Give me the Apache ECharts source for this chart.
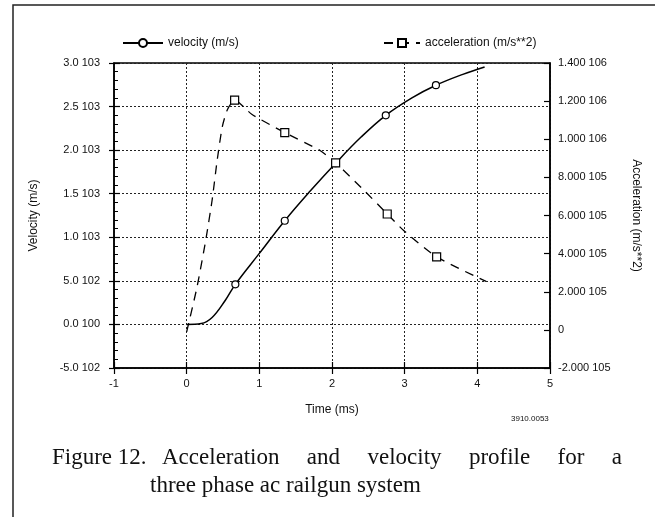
<!DOCTYPE html>
<html>
<head>
<meta charset="utf-8">
<script src="https://cdn.jsdelivr.net/npm/echarts@6/dist/echarts.min.js"></script>
<style>
  html, body { margin: 0; padding: 0; background: #fff; }
  #chart { width: 655px; height: 517px; }
</style>
</head>
<body>
<div id="chart"></div>
<script>
// velocity curve (m/s) vs time (ms)
var velTime  = [0, 0.2, 0.35, 0.53, 0.67, 1.0, 1.35, 1.7, 2.05, 2.4, 2.74, 3.1, 3.43, 3.8, 4.1]
var velValue = [0, 10, 80, 275, 460, 815, 1190, 1530, 1850, 2150, 2400, 2600, 2745, 2870, 2955]
var velMarked = [4, 6, 8, 10, 12]

// acceleration curve (m/s**2) vs time (ms)
var accTime  = [0, 0.14, 0.26, 0.35, 0.42, 0.49, 0.56, 0.66, 0.9, 1.35, 1.84, 2.05, 2.42, 2.76, 2.99, 3.44, 4.12]
var accValue = [-10000, 220000, 465000, 680000, 890000, 1065000, 1155000, 1205000, 1130000, 1035000, 940000, 876000, 740000, 608000, 520000, 383000, 254000]
var accMarked = [7, 9, 11, 13, 15]

var velTickValues = [-500, 0, 500, 1000, 1500, 2000, 2500, 3000]
var velTickLabels = ['-5.0 102', '0.0 100', '5.0 102', '1.0 103', '1.5 103', '2.0 103', '2.5 103', '3.0 103']
var accTickValues = [-200000, 0, 200000, 400000, 600000, 800000, 1000000, 1200000, 1400000]
var accTickLabels = ['-2.000 105', '0', '2.000 105', '4.000 105', '6.000 105', '8.000 105', '1.000 106', '1.200 106', '1.400 106']

var captionLead = 'Figure 12.'
var captionLine1 = ['Acceleration', 'and', 'velocity', 'profile', 'for', 'a']
var captionLine2 = 'three phase ac railgun system'

var sans = 'Liberation Sans, Arial, sans-serif'
var serif = 'Liberation Serif, Times New Roman, serif'
var captionFont = '23px ' + serif

function pickLabel(values, labels) {
  return function (v) {
    for (var i = 0; i < values.length; i++) {
      if (Math.abs(values[i] - v) < 1e-6) return labels[i]
    }
    return ''
  }
}

function buildData(xs, ys, marked) {
  return xs.map(function (x, i) {
    var item = { value: [x, ys[i]] }
    if (marked.indexOf(i) < 0) {
      item.symbol = 'none'
      item.symbolSize = 0
    }
    return item
  })
}

// spread the caption words so the first line is justified
function justify(words, x0, x1) {
  var ctx = document.createElement('canvas').getContext('2d')
  ctx.font = captionFont
  var widths = words.map(function (w) { return ctx.measureText(w).width })
  var total = widths.reduce(function (a, b) { return a + b }, 0)
  var gap = (x1 - x0 - total) / (words.length - 1)
  var x = x0
  return words.map(function (w, i) {
    var el = { type: 'text', left: x, top: 446, style: { text: w, font: captionFont, fill: '#111' } }
    x += widths[i] + gap
    return el
  })
}

var chart = echarts.init(document.getElementById('chart'))

var tickStyle = { color: '#000', width: 1.2 }
var dotted = { color: '#222', type: [2, 2], width: 1 }

chart.setOption({
  animation: false,
  backgroundColor: '#fff',
  grid: {
    left: 114, right: 105, top: 63, bottom: 149,
    show: true, borderColor: '#000', borderWidth: 1.5
  },
  legend: [{
    left: 117, top: 32,
    itemWidth: 40, itemHeight: 10,
    textStyle: { fontFamily: sans, fontSize: 12, color: '#111' },
    data: ['velocity (m/s)']
  }, {
    left: 378, top: 32,
    itemWidth: 36, itemHeight: 10,
    textStyle: { fontFamily: sans, fontSize: 12, color: '#111' },
    data: ['acceleration (m/s**2)']
  }],
  xAxis: [{
    type: 'value', min: -1, max: 5, interval: 1,
    name: 'Time (ms)', nameLocation: 'middle', nameGap: 36,
    nameTextStyle: { fontFamily: sans, fontSize: 12, color: '#111' },
    axisLine: { onZero: false, lineStyle: { color: '#000', width: 1.5 } },
    axisTick: { inside: false, length: 6, lineStyle: tickStyle },
    axisLabel: { fontFamily: sans, fontSize: 11, color: '#111', margin: 10,
      formatter: function (v) { return String(v) } },
    splitLine: { show: true, lineStyle: dotted }
  }, {
    type: 'value', min: -1, max: 5, interval: 1, position: 'bottom',
    axisLine: { show: false, onZero: false },
    axisTick: { inside: true, length: 6, lineStyle: tickStyle },
    axisLabel: { show: false },
    splitLine: { show: false }
  }],
  yAxis: [{
    type: 'value', min: -500, max: 3000, interval: 500, position: 'left',
    name: 'Velocity (m/s)', nameLocation: 'middle', nameGap: 74, nameRotate: 90,
    nameTextStyle: { fontFamily: sans, fontSize: 12, color: '#111' },
    axisLine: { show: true, onZero: false, lineStyle: { color: '#000', width: 1.5 } },
    axisTick: { show: true, inside: true, length: 6, lineStyle: tickStyle },
    minorTick: { show: true, splitNumber: 5, length: 4, lineStyle: { color: '#000', width: 1 } },
    axisLabel: { fontFamily: sans, fontSize: 11, color: '#111', margin: 14,
      formatter: pickLabel(velTickValues, velTickLabels) },
    splitLine: { show: true, lineStyle: dotted }
  }, {
    type: 'value', min: -200000, max: 1400000, interval: 200000, position: 'right',
    name: 'Acceleration (m/s**2)', nameLocation: 'middle', nameGap: 80, nameRotate: -90,
    nameTextStyle: { fontFamily: sans, fontSize: 12, color: '#111' },
    axisLine: { show: true, onZero: false, lineStyle: { color: '#000', width: 1.5 } },
    axisTick: { show: true, inside: true, length: 6, lineStyle: tickStyle },
    axisLabel: { fontFamily: sans, fontSize: 11, color: '#111', margin: 8,
      formatter: pickLabel(accTickValues, accTickLabels) },
    splitLine: { show: false }
  }, {
    // outer half of the left major ticks
    type: 'value', min: -500, max: 3000, interval: 500, position: 'left',
    axisLine: { show: false, onZero: false },
    axisTick: { show: true, inside: false, length: 5, lineStyle: tickStyle },
    axisLabel: { show: false },
    splitLine: { show: false }
  }],
  series: [{
    name: 'velocity (m/s)',
    type: 'line',
    xAxisIndex: 0, yAxisIndex: 0,
    smooth: 0.4,
    symbol: 'circle', symbolSize: 7,
    itemStyle: { color: '#fff', borderColor: '#000', borderWidth: 1.2 },
    lineStyle: { color: '#000', width: 1.5 },
    data: buildData(velTime, velValue, velMarked),
    z: 3
  }, {
    name: 'acceleration (m/s**2)',
    type: 'line',
    xAxisIndex: 0, yAxisIndex: 1,
    smooth: 0.2,
    symbol: 'rect', symbolSize: 8,
    itemStyle: { color: '#fff', borderColor: '#000', borderWidth: 1.2 },
    lineStyle: { color: '#000', width: 1.3, type: [9, 7] },
    data: buildData(accTime, accValue, accMarked),
    z: 4
  }],
  graphic: [{
    type: 'polyline',
    shape: { points: [[13, 517], [13, 5], [655, 5]] },
    style: { stroke: '#222', lineWidth: 1.5, fill: null }
  }, {
    type: 'text', left: 511, top: 415,
    style: { text: '3910.0053', font: '8px ' + sans, fill: '#111' }
  }, {
    type: 'text', left: 52, top: 446,
    style: { text: captionLead, font: captionFont, fill: '#111' }
  }, {
    type: 'text', left: 150, top: 474,
    style: { text: captionLine2, font: captionFont, fill: '#111' }
  }].concat(justify(captionLine1, 162, 622))
})
</script>
</body>
</html>
